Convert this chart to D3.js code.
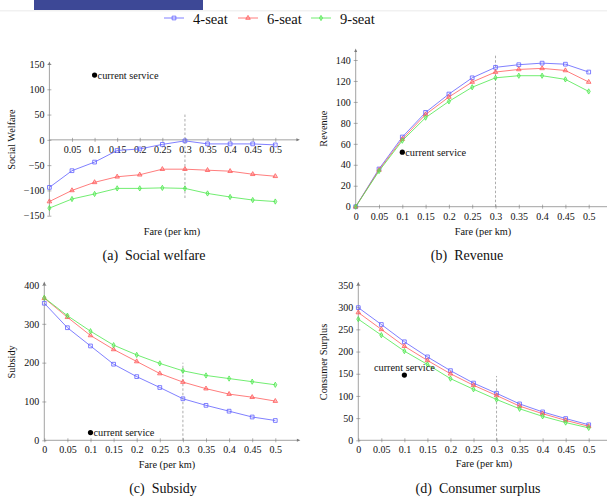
<!DOCTYPE html>
<html>
<head>
<meta charset="utf-8">
<script src="https://d3js.org/d3.v7.min.js"></script>
<style>
    body { margin: 0; background: #fff; }
    svg text { font-family: "Liberation Serif", "DejaVu Serif", serif; fill: #111; }
</style>
</head>
<body>
<script>
// chart values
const fares = [0, 0.05, 0.1, 0.15, 0.2, 0.25, 0.3, 0.35, 0.4, 0.45, 0.5];
const seriesNames = ["4-seat", "6-seat", "9-seat"];
const seriesColors = ["#5f5fff", "#ff5c5c", "#4ce84c"];

const welfare4 = [-94, -61, -44, -21, -18, -9, -2, -8, -8, -8, -10];
const welfare6 = [-122, -100, -84, -73, -69, -58, -58, -60, -62, -68, -72];
const welfare9 = [-135, -117, -107, -96, -96, -95, -96, -106, -113, -119, -122];

const revenue4 = [0, 36, 66.5, 90, 107.5, 123, 133, 135.5, 137, 136, 128.5];
const revenue6 = [0, 35, 64.5, 88, 104.7, 119, 128.5, 131, 132, 130, 119];
const revenue9 = [0, 34, 63, 85, 100.5, 114, 123, 125, 125, 121.5, 110];

const subsidy4 = [353, 290, 243, 196, 164, 136, 107, 90, 75, 60, 51];
const subsidy6 = [366, 317, 270, 234, 203, 172, 150, 133, 119, 111, 101];
const subsidy9 = [367, 321, 281, 245, 220, 198, 179, 167, 159, 151, 143];

const surplus4 = [299, 261, 222, 188, 157, 129, 106, 82, 64, 49, 35];
const surplus6 = [288, 250, 212, 180, 150, 124, 101, 77, 60, 45, 31.5];
const surplus9 = [273, 237, 201, 171, 139, 115, 92, 71, 54, 40, 28];

const welfareTicks = [-150, -100, -50, 0, 50, 100, 150];
const revenueTicks = [0, 20, 40, 60, 80, 100, 120, 140];
const subsidyTicks = [0, 100, 200, 300, 400];
const surplusTicks = [0, 50, 100, 150, 200, 250, 300, 350];

const currentService = [
    { fare: 0.1, value: 128 },
    { fare: 0.1, value: 52 },
    { fare: 0.1, value: 20 },
    { fare: 0.1, value: 147 }
];
const chosenFare = 0.3;
const dashedTop = [50, 146, 200, 145];
const dashedBottom = [-115, 0, 0, 0];

// layout
const W = 607, H = 497;
const svg = d3.select("body").append("svg").attr("width", W).attr("height", H);

svg.append("rect").attr("x", 34).attr("y", 0).attr("width", 169).attr("height", 10).attr("fill", "#3d4896");
svg.append("rect").attr("x", 0).attr("y", 10).attr("width", W).attr("height", 1.5).attr("fill", "#f1f1f1");

const symbols = [d3.symbolSquare, d3.symbolTriangle, d3.symbolDiamond];
const symbolSizes = [14, 9, 8];

function marker(g, i, cx, cy) {
    g.append("path")
        .attr("d", d3.symbol().type(symbols[i]).size(symbolSizes[i])())
        .attr("transform", `translate(${cx},${cy})`)
        .attr("fill", i === 0 ? "none" : seriesColors[i])
        .attr("fill-opacity", i === 0 ? 0 : 0.3)
        .attr("stroke", seriesColors[i])
        .attr("stroke-width", 0.8);
}

// legend
const legendX = [164, 238, 311];
seriesNames.forEach((name, i) => {
    const lg = svg.append("g");
    lg.append("line").attr("x1", legendX[i]).attr("x2", legendX[i] + 20)
        .attr("y1", 18).attr("y2", 18)
        .attr("stroke", seriesColors[i]).attr("stroke-width", 0.8);
    marker(lg, i, legendX[i] + 10, 18);
    lg.append("text").attr("x", legendX[i] + 29).attr("y", 23.5)
        .attr("font-size", 14.6).text(name);
});

const fmt = d => String(+d.toFixed(2));

function drawPanel(p) {
    const g = svg.append("g");
    const x = d3.scaleLinear().domain([0, 0.5]).range(p.xRange);
    const y = d3.scaleLinear().domain(p.yDomain).range(p.yRange);
    const axisColor = "#7a7a7a";
    const y0 = y(0), x0 = x(0);

    // x axis
    const xEnd = x(0.55);
    g.append("line").attr("x1", x0).attr("x2", xEnd).attr("y1", y0).attr("y2", y0)
        .attr("stroke", axisColor).attr("stroke-width", 0.7);
    g.append("path").attr("d", `M${xEnd + 2},${y0} L${xEnd - 1.5},${y0 - 1.5} L${xEnd - 1.5},${y0 + 1.5}Z`)
        .attr("fill", axisColor);
    const xa = g.append("g").attr("transform", `translate(0,${y0})`)
        .call(d3.axisBottom(x).tickValues(p.xTicks).tickFormat(fmt).tickSizeInner(2).tickSizeOuter(0).tickPadding(4));
    xa.select(".domain").remove();
    xa.selectAll(".tick line").attr("y1", -2).attr("y2", 2).attr("stroke", axisColor).attr("stroke-width", 0.6);
    xa.selectAll(".tick text").attr("font-size", 10).attr("fill", "#111")
        .attr("y", 6).attr("dy", "0.71em");

    // y axis
    const yTop = y(p.yAxisMax);
    g.append("line").attr("x1", x0).attr("x2", x0).attr("y1", y(p.yDomain[0])).attr("y2", yTop)
        .attr("stroke", axisColor).attr("stroke-width", 0.7);
    g.append("path").attr("d", `M${x0},${yTop - 2} L${x0 - 1.5},${yTop + 1.5} L${x0 + 1.5},${yTop + 1.5}Z`)
        .attr("fill", axisColor);
    const ya = g.append("g").attr("transform", `translate(${x0},0)`)
        .call(d3.axisLeft(y).tickValues(p.yTicks).tickSizeInner(2).tickSizeOuter(0).tickPadding(4));
    ya.select(".domain").remove();
    ya.selectAll(".tick line").attr("x1", -2).attr("x2", 2).attr("stroke", axisColor).attr("stroke-width", 0.6);
    ya.selectAll(".tick text").attr("font-size", 10).attr("fill", "#111")
        .attr("x", -5);

    // chosen fare marker
    g.append("line").attr("x1", x(chosenFare)).attr("x2", x(chosenFare))
        .attr("y1", y(p.dashBottom)).attr("y2", y(p.dashTop))
        .attr("stroke", "#888").attr("stroke-width", 0.7).attr("stroke-dasharray", "2.5,2");

    // series
    const line = d3.line().x((d, i) => x(fares[i])).y(d => y(d));
    p.series.forEach((vals, i) => {
        g.append("path").datum(vals).attr("d", line)
            .attr("fill", "none").attr("stroke", seriesColors[i]).attr("stroke-width", 0.8);
        vals.forEach((v, j) => marker(g, i, x(fares[j]), y(v)));
    });

    // current service
    const cs = p.current;
    g.append("circle").attr("cx", x(cs.fare)).attr("cy", y(cs.value)).attr("r", 2.6).attr("fill", "#000");
    const ct = g.append("text").attr("font-size", 10.3).text("current service");
    if (p.labelAbove) {
        ct.attr("x", x(cs.fare)).attr("y", y(cs.value) - 4.5).attr("text-anchor", "middle");
    } else {
        ct.attr("x", x(cs.fare) + 3).attr("y", y(cs.value)).attr("dy", "0.33em");
    }

    // labels
    g.append("text").attr("transform", `translate(${p.yLabelX},${(y(p.yDomain[0]) + yTop) / 2}) rotate(-90)`)
        .attr("text-anchor", "middle").attr("font-size", 10.3).text(p.yLabel);
    g.append("text").attr("x", p.xLabelX).attr("y", p.xLabelY).attr("text-anchor", "middle")
        .attr("font-size", 10.3).text("Fare (per km)");
    g.append("text").attr("x", p.capX).attr("y", p.capY).attr("text-anchor", "middle")
        .attr("font-size", 14).attr("xml:space", "preserve").text(p.caption);
}

drawPanel({
    xRange: [49.4, 275.3], yDomain: [-150, 150], yRange: [215.7, 64], yAxisMax: 151,
    xTicks: fares.slice(1), yTicks: welfareTicks,
    series: [welfare4, welfare6, welfare9], current: currentService[0],
    dashTop: dashedTop[0], dashBottom: dashedBottom[0],
    yLabel: "Social Welfare", yLabelX: 14.5, xLabelX: 172, xLabelY: 235,
    caption: "(a)  Social welfare", capX: 154, capY: 259.5
});
drawPanel({
    xRange: [355.7, 588.7], yDomain: [0, 140], yRange: [206.7, 60], yAxisMax: 149,
    xTicks: fares, yTicks: revenueTicks,
    series: [revenue4, revenue6, revenue9], current: currentService[1],
    dashTop: dashedTop[1], dashBottom: dashedBottom[1],
    yLabel: "Revenue", yLabelX: 327, xLabelX: 483, xLabelY: 234.5,
    caption: "(b)  Revenue", capX: 467, capY: 259.5
});
drawPanel({
    xRange: [44.3, 275.3], yDomain: [0, 400], yRange: [440.3, 285], yAxisMax: 404,
    xTicks: fares, yTicks: subsidyTicks,
    series: [subsidy4, subsidy6, subsidy9], current: currentService[2],
    dashTop: dashedTop[2], dashBottom: dashedBottom[2],
    yLabel: "Subsidy", yLabelX: 14.5, xLabelX: 167, xLabelY: 468,
    caption: "(c)  Subsidy", capX: 163, capY: 492.5
});
drawPanel({
    xRange: [358.3, 588.7], yDomain: [0, 350], yRange: [440.3, 285], yAxisMax: 353,
    xTicks: fares, yTicks: surplusTicks,
    series: [surplus4, surplus6, surplus9], current: currentService[3], labelAbove: true,
    dashTop: dashedTop[3], dashBottom: dashedBottom[3],
    yLabel: "Consumer Surplus", yLabelX: 327, xLabelX: 484, xLabelY: 467,
    caption: "(d)  Consumer surplus", capX: 478, capY: 493
});
</script>
</body>
</html>
